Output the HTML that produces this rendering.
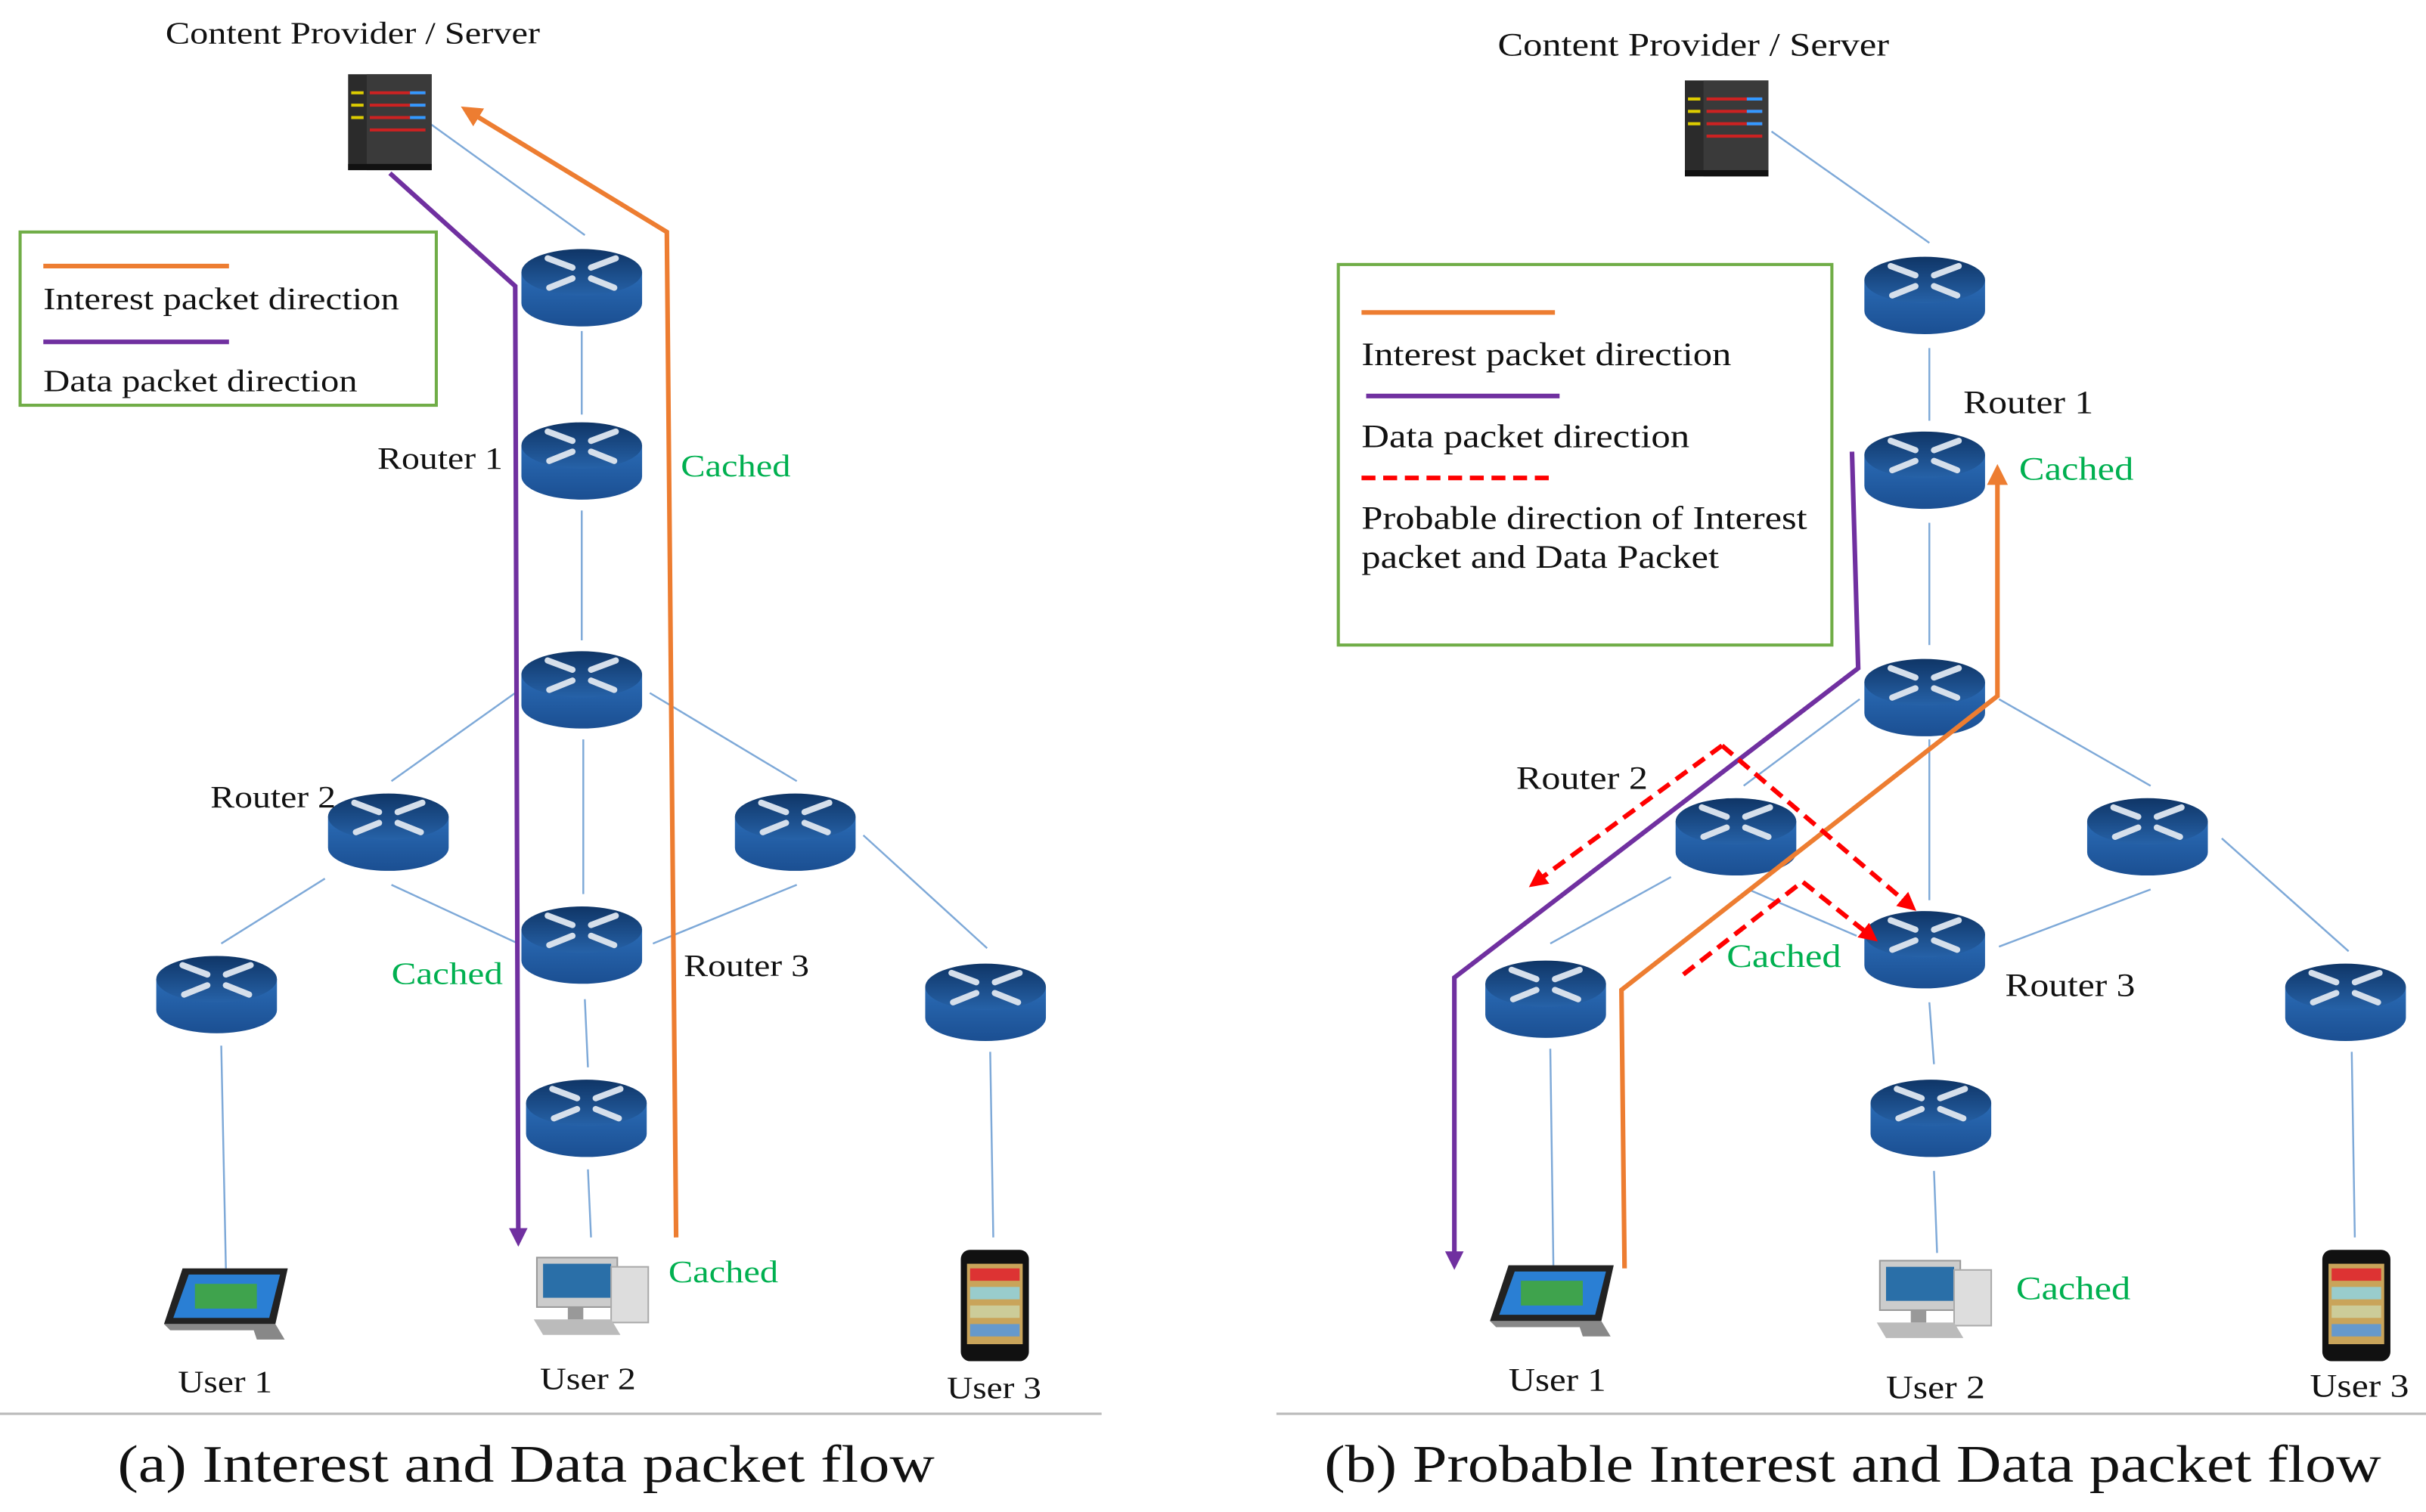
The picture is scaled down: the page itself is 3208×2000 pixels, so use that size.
<!DOCTYPE html>
<html><head><style>html,body{margin:0;padding:0;background:#fff}svg{display:block}</style></head>
<body>
<svg width="3208" height="2000" viewBox="0 0 1568 977.5" preserveAspectRatio="none" xmlns="http://www.w3.org/2000/svg" font-family="'Liberation Serif', serif">
<defs>
<linearGradient id="gb" x1="0" y1="0" x2="0" y2="1"><stop offset="0" stop-color="#2a6bb5"/><stop offset="1" stop-color="#1b4f92"/></linearGradient>
<linearGradient id="gt" x1="0" y1="0" x2="0" y2="1"><stop offset="0" stop-color="#0f3566"/><stop offset="1" stop-color="#2662a8"/></linearGradient>
<g id="r">
<path d="M0,16 V36 A39,15 0 0 0 78,36 V16 Z" fill="url(#gb)"/>
<ellipse cx="39" cy="16" rx="39" ry="15" fill="url(#gt)"/>
<g stroke="#d5dfeb" stroke-width="4" stroke-linecap="round">
<line x1="33" y1="13" x2="17" y2="7"/><line x1="45" y1="13" x2="61" y2="7"/>
<line x1="33" y1="20" x2="18" y2="26"/><line x1="45" y1="20" x2="60" y2="26"/>
</g>
</g>
<g id="srv">
<rect x="0" y="0" width="54" height="62" fill="#2b2b2b"/>
<rect x="12" y="0" width="42" height="62" fill="#3a3a3a"/>
<g stroke-width="2"><line x1="14" y1="12" x2="50" y2="12" stroke="#c22"/><line x1="14" y1="20" x2="50" y2="20" stroke="#c22"/><line x1="14" y1="28" x2="50" y2="28" stroke="#c22"/><line x1="14" y1="36" x2="50" y2="36" stroke="#c22"/>
<line x1="40" y1="12" x2="50" y2="12" stroke="#39f"/><line x1="40" y1="20" x2="50" y2="20" stroke="#39f"/><line x1="40" y1="28" x2="50" y2="28" stroke="#39f"/><line x1="2" y1="12" x2="10" y2="12" stroke="#dc0"/><line x1="2" y1="20" x2="10" y2="20" stroke="#dc0"/><line x1="2" y1="28" x2="10" y2="28" stroke="#dc0"/></g>
<rect x="0" y="58" width="54" height="4" fill="#111"/>
</g>
<g id="tab">
<polygon points="12,0 80,0 72,36 0,36" fill="#222"/>
<polygon points="16,4 75,4 68,32 6,32" fill="#2a7fd4"/>
<rect x="20" y="10" width="40" height="16" fill="#3fa34d"/>
<polygon points="0,36 72,36 78,46 60,46 58,40 4,40" fill="#888"/>
</g>
<g id="pc">
<rect x="2" y="0" width="52" height="32" fill="#ccc" stroke="#999"/>
<rect x="6" y="4" width="44" height="22" fill="#2a6fa8"/>
<rect x="50" y="6" width="24" height="36" fill="#ddd" stroke="#aaa"/>
<polygon points="0,40 50,40 56,50 6,50" fill="#bbb"/>
<rect x="22" y="32" width="10" height="8" fill="#999"/>
</g>
<g id="ph">
<rect x="0" y="0" width="44" height="72" rx="6" fill="#111"/>
<rect x="4" y="9" width="36" height="52" fill="#c9a45a"/>
<rect x="6" y="12" width="32" height="8" fill="#d33"/><rect x="6" y="24" width="32" height="8" fill="#9cc"/><rect x="6" y="36" width="32" height="8" fill="#cc9"/><rect x="6" y="48" width="32" height="8" fill="#69c"/>
</g>
<marker id="ao" markerWidth="4.5" markerHeight="4.5" refX="2.5" refY="2.25" orient="auto" markerUnits="strokeWidth"><path d="M0,0 L4.5,2.25 L0,4.5 Z" fill="#ed7d31"/></marker>
<marker id="ap" markerWidth="4" markerHeight="4" refX="2" refY="2" orient="auto" markerUnits="strokeWidth"><path d="M0,0 L4,2 L0,4 Z" fill="#7030a0"/></marker>
<marker id="ar" markerWidth="4" markerHeight="4" refX="2" refY="2" orient="auto" markerUnits="strokeWidth"><path d="M0,0 L4,2 L0,4 Z" fill="#f00"/></marker>
</defs>

<!-- LEFT PANEL -->
<g stroke="#7ea9d8" stroke-width="1.2" fill="none">
<line x1="278" y1="80" x2="378" y2="152"/>
<line x1="376" y1="214" x2="376" y2="268"/>
<line x1="376" y1="330" x2="376" y2="414"/>
<line x1="333" y1="448" x2="253" y2="505"/>
<line x1="420" y1="448" x2="515" y2="505"/>
<line x1="377" y1="478" x2="377" y2="578"/>
<line x1="210" y1="568" x2="143" y2="610"/>
<line x1="253" y1="572" x2="335" y2="610"/>
<line x1="515" y1="572" x2="422" y2="610"/>
<line x1="558" y1="540" x2="638" y2="613"/>
<line x1="378" y1="646" x2="380" y2="690"/>
<line x1="143" y1="676" x2="146" y2="820"/>
<line x1="380" y1="756" x2="382" y2="800"/>
<line x1="640" y1="680" x2="642" y2="800"/>
</g>
<use href="#srv" x="225" y="48"/>
<use href="#r" x="337" y="160"/>
<use href="#r" x="337" y="272"/>
<use href="#r" x="337" y="420"/>
<use href="#r" x="212" y="512"/>
<use href="#r" x="475" y="512"/>
<use href="#r" x="337" y="585"/>
<use href="#r" x="101" y="617"/>
<use href="#r" x="598" y="622"/>
<use href="#r" x="340" y="697"/>
<use href="#tab" x="106" y="820"/>
<use href="#pc" x="345" y="813"/>
<use href="#ph" x="621" y="808"/>

<polyline points="252,112 333,185 335,800" fill="none" stroke="#7030a0" stroke-width="3" marker-end="url(#ap)"/>
<polyline points="437,800 431,150 303,72" fill="none" stroke="#ed7d31" stroke-width="3" marker-end="url(#ao)"/>

<rect x="13" y="150" width="269" height="112" fill="none" stroke="#70ad47" stroke-width="2"/>
<line x1="28" y1="172" x2="148" y2="172" stroke="#ed7d31" stroke-width="3"/>
<line x1="28" y1="221" x2="148" y2="221" stroke="#7030a0" stroke-width="3"/>
<g font-size="20" fill="#111" lengthAdjust="spacingAndGlyphs">
<text x="28" y="200" textLength="230" lengthAdjust="spacingAndGlyphs">Interest packet direction</text>
<text x="28" y="253" textLength="203" lengthAdjust="spacingAndGlyphs">Data packet direction</text>
<text x="107" y="28" textLength="242" lengthAdjust="spacingAndGlyphs">Content Provider / Server</text>
<text x="244" y="303" textLength="81" lengthAdjust="spacingAndGlyphs">Router 1</text>
<text x="136" y="522" textLength="81" lengthAdjust="spacingAndGlyphs">Router 2</text>
<text x="442" y="631" textLength="81" lengthAdjust="spacingAndGlyphs">Router 3</text>
<text x="115" y="900" textLength="61" lengthAdjust="spacingAndGlyphs">User 1</text>
<text x="349" y="898" textLength="62" lengthAdjust="spacingAndGlyphs">User 2</text>
<text x="612" y="904" textLength="61" lengthAdjust="spacingAndGlyphs">User 3</text>
</g>
<g font-size="20" fill="#00b050">
<text x="440" y="308" textLength="71" lengthAdjust="spacingAndGlyphs">Cached</text>
<text x="253" y="636" textLength="72" lengthAdjust="spacingAndGlyphs">Cached</text>
<text x="432" y="829" textLength="71" lengthAdjust="spacingAndGlyphs">Cached</text>
</g>
<line x1="0" y1="914" x2="712" y2="914" stroke="#bbb" stroke-width="1.5"/>
<text x="76" y="958" font-size="34" fill="#111" textLength="528" lengthAdjust="spacingAndGlyphs">(a) Interest and Data packet flow</text>

<!-- RIGHT PANEL -->
<g stroke="#7ea9d8" stroke-width="1.2" fill="none">
<line x1="1145" y1="85" x2="1247" y2="157"/>
<line x1="1247" y1="225" x2="1247" y2="272"/>
<line x1="1247" y1="338" x2="1247" y2="417"/>
<line x1="1202" y1="452" x2="1127" y2="508"/>
<line x1="1292" y1="452" x2="1390" y2="508"/>
<line x1="1247" y1="478" x2="1247" y2="582"/>
<line x1="1080" y1="567" x2="1002" y2="610"/>
<line x1="1130" y1="575" x2="1200" y2="605"/>
<line x1="1390" y1="575" x2="1292" y2="612"/>
<line x1="1436" y1="542" x2="1518" y2="615"/>
<line x1="1247" y1="648" x2="1250" y2="688"/>
<line x1="1002" y1="678" x2="1004" y2="818"/>
<line x1="1250" y1="757" x2="1252" y2="810"/>
<line x1="1520" y1="680" x2="1522" y2="800"/>
</g>
<use href="#srv" x="1089" y="52"/>
<use href="#r" x="1205" y="165"/>
<use href="#r" x="1205" y="278"/>
<use href="#r" x="1205" y="425"/>
<use href="#r" x="1083" y="515"/>
<use href="#r" x="1349" y="515"/>
<use href="#r" x="1205" y="588"/>
<use href="#r" x="960" y="620"/>
<use href="#r" x="1477" y="622"/>
<use href="#r" x="1209" y="697"/>
<use href="#tab" x="963" y="818"/>
<use href="#pc" x="1213" y="815"/>
<use href="#ph" x="1501" y="808"/>

<polyline points="1197,292 1201,432 940,632 940,815" fill="none" stroke="#7030a0" stroke-width="3" marker-end="url(#ap)"/>
<polyline points="1050,820 1048,640 1291,450 1291,306" fill="none" stroke="#ed7d31" stroke-width="3" marker-end="url(#ao)"/>
<g stroke="#f00" stroke-width="3" stroke-dasharray="9,5" fill="none">
<polyline points="1113,482 993,570" marker-end="url(#ar)"/>
<polyline points="1113,482 1234,585" marker-end="url(#ar)"/>
<polyline points="1088,630 1165,570 1209,605" marker-end="url(#ar)"/>
</g>

<rect x="865" y="171" width="319" height="246" fill="none" stroke="#70ad47" stroke-width="2"/>
<line x1="880" y1="202" x2="1005" y2="202" stroke="#ed7d31" stroke-width="3"/>
<line x1="883" y1="256" x2="1008" y2="256" stroke="#7030a0" stroke-width="3"/>
<line x1="880" y1="309" x2="1006" y2="309" stroke="#f00" stroke-width="3" stroke-dasharray="9,5"/>
<g font-size="21" fill="#111">
<text x="880" y="236" textLength="239" lengthAdjust="spacingAndGlyphs">Interest packet direction</text>
<text x="880" y="289" textLength="212" lengthAdjust="spacingAndGlyphs">Data packet direction</text>
<text x="880" y="342" textLength="288" lengthAdjust="spacingAndGlyphs">Probable direction of Interest</text>
<text x="880" y="367" textLength="231" lengthAdjust="spacingAndGlyphs">packet and Data Packet</text>
<text x="968" y="36" textLength="253" lengthAdjust="spacingAndGlyphs">Content Provider / Server</text>
<text x="1269" y="267" textLength="84" lengthAdjust="spacingAndGlyphs">Router 1</text>
<text x="980" y="510" textLength="85" lengthAdjust="spacingAndGlyphs">Router 2</text>
<text x="1296" y="644" textLength="84" lengthAdjust="spacingAndGlyphs">Router 3</text>
<text x="975" y="899" textLength="63" lengthAdjust="spacingAndGlyphs">User 1</text>
<text x="1219" y="904" textLength="64" lengthAdjust="spacingAndGlyphs">User 2</text>
<text x="1493" y="903" textLength="64" lengthAdjust="spacingAndGlyphs">User 3</text>
</g>
<g font-size="21" fill="#00b050">
<text x="1305" y="310" textLength="74" lengthAdjust="spacingAndGlyphs">Cached</text>
<text x="1116" y="625" textLength="74" lengthAdjust="spacingAndGlyphs">Cached</text>
<text x="1303" y="840" textLength="74" lengthAdjust="spacingAndGlyphs">Cached</text>
</g>
<line x1="825" y1="914" x2="1568" y2="914" stroke="#bbb" stroke-width="1.5"/>
<text x="856" y="958" font-size="34" fill="#111" textLength="683" lengthAdjust="spacingAndGlyphs">(b) Probable Interest and Data packet flow</text>
</svg>
</body></html>
